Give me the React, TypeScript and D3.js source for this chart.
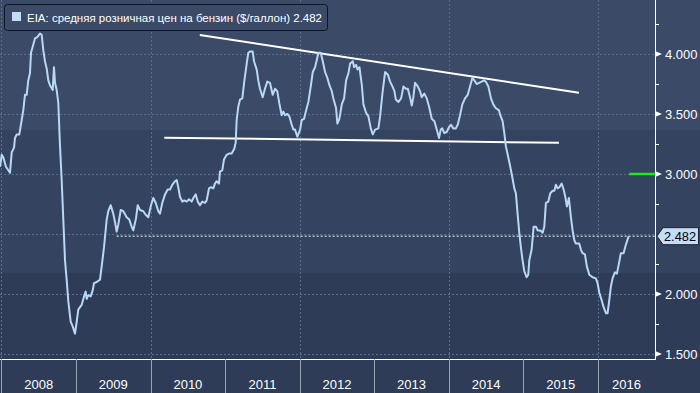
import * as d3 from 'd3';

// weekly-ish EIA retail gasoline price (decimal year, $/gal)
const priceTimes = [
  2007.980, 2008.003, 2008.024, 2008.060, 2008.114, 2008.137, 2008.168, 2008.181, 2008.204, 2008.239,
  2008.271, 2008.292, 2008.315, 2008.338, 2008.359, 2008.382, 2008.396, 2008.427, 2008.449, 2008.480,
  2008.516, 2008.539, 2008.561, 2008.583, 2008.606, 2008.628, 2008.650, 2008.687, 2008.704, 2008.718,
  2008.740, 2008.762, 2008.785, 2008.807, 2008.829, 2008.852, 2008.874, 2008.896, 2008.928, 2008.955,
  2008.986, 2009.009, 2009.030, 2009.053, 2009.076, 2009.107, 2009.129, 2009.143, 2009.164, 2009.196,
  2009.223, 2009.241, 2009.277, 2009.321, 2009.344, 2009.375, 2009.411, 2009.432, 2009.465, 2009.499,
  2009.522, 2009.545, 2009.567, 2009.599, 2009.634, 2009.679, 2009.714, 2009.746, 2009.768, 2009.804,
  2009.827, 2009.858, 2009.902, 2009.934, 2009.969, 2010.005, 2010.036, 2010.068, 2010.103, 2010.126,
  2010.157, 2010.193, 2010.229, 2010.260, 2010.291, 2010.327, 2010.350, 2010.371, 2010.394, 2010.425,
  2010.452, 2010.484, 2010.515, 2010.551, 2010.573, 2010.605, 2010.632, 2010.662, 2010.693, 2010.729,
  2010.752, 2010.783, 2010.810, 2010.841, 2010.863, 2010.886, 2010.917, 2010.930, 2010.961, 2010.984,
  2011.020, 2011.051, 2011.087, 2011.122, 2011.141, 2011.154, 2011.176, 2011.199, 2011.230, 2011.256,
  2011.289, 2011.310, 2011.333, 2011.369, 2011.387, 2011.423, 2011.444, 2011.467, 2011.503, 2011.534,
  2011.565, 2011.601, 2011.637, 2011.668, 2011.699, 2011.726, 2011.758, 2011.780, 2011.803, 2011.834,
  2011.861, 2011.893, 2011.915, 2011.937, 2011.968, 2012.005, 2012.027, 2012.058, 2012.094, 2012.116,
  2012.148, 2012.175, 2012.206, 2012.229, 2012.250, 2012.282, 2012.309, 2012.340, 2012.371, 2012.398,
  2012.430, 2012.451, 2012.487, 2012.505, 2012.532, 2012.564, 2012.595, 2012.622, 2012.653, 2012.676,
  2012.712, 2012.729, 2012.756, 2012.774, 2012.801, 2012.833, 2012.854, 2012.890, 2012.921, 2012.953,
  2012.980, 2013.011, 2013.055, 2013.078, 2013.109, 2013.145, 2013.181, 2013.212, 2013.243, 2013.270,
  2013.289, 2013.324, 2013.360, 2013.391, 2013.423, 2013.450, 2013.479, 2013.503, 2013.524, 2013.547,
  2013.583, 2013.614, 2013.636, 2013.671, 2013.704, 2013.735, 2013.771, 2013.806, 2013.838, 2013.868,
  2013.891, 2013.912, 2013.939, 2013.971, 2014.002, 2014.029, 2014.060, 2014.092, 2014.119, 2014.150,
  2014.181, 2014.217, 2014.253, 2014.284, 2014.315, 2014.342, 2014.374, 2014.405, 2014.441, 2014.468,
  2014.495, 2014.530, 2014.565, 2014.596, 2014.628, 2014.673, 2014.690, 2014.721, 2014.744, 2014.765,
  2014.797, 2014.824, 2014.855, 2014.878, 2014.899, 2014.922, 2014.945, 2014.966, 2014.989, 2015.012,
  2015.043, 2015.065, 2015.079, 2015.110, 2015.137, 2015.168, 2015.191, 2015.227, 2015.258, 2015.280,
  2015.302, 2015.334, 2015.361, 2015.392, 2015.415, 2015.436, 2015.459, 2015.482, 2015.513, 2015.540,
  2015.562, 2015.583, 2015.610, 2015.637, 2015.660, 2015.682, 2015.704, 2015.749, 2015.771, 2015.794,
  2015.825, 2015.851, 2015.884, 2015.928, 2015.972, 2015.995, 2016.018, 2016.049, 2016.076, 2016.107,
  2016.129, 2016.152, 2016.173, 2016.196, 2016.227, 2016.254, 2016.286, 2016.307, 2016.343, 2016.379,
  2016.413,
];
const priceValues = [
  3.06, 3.16, 3.14, 3.06, 3.01, 3.18, 3.22, 3.30, 3.33, 3.33,
  3.45, 3.53, 3.66, 3.66, 3.78, 3.84, 4.01, 4.08, 4.13, 4.14,
  4.17, 4.16, 4.03, 3.94, 3.88, 3.78, 3.74, 3.70, 3.89, 3.76,
  3.70, 3.59, 3.23, 2.95, 2.62, 2.28, 2.12, 1.94, 1.77, 1.73,
  1.67, 1.77, 1.87, 1.89, 1.91, 1.98, 2.02, 1.96, 1.99, 1.98,
  2.03, 2.09, 2.10, 2.12, 2.23, 2.39, 2.62, 2.69, 2.74, 2.67,
  2.60, 2.52, 2.58, 2.70, 2.69, 2.64, 2.62, 2.56, 2.53, 2.63,
  2.74, 2.70, 2.69, 2.66, 2.64, 2.74, 2.80, 2.76, 2.69, 2.67,
  2.76, 2.83, 2.87, 2.87, 2.91, 2.94, 2.95, 2.89, 2.81, 2.77,
  2.78, 2.77, 2.79, 2.77, 2.80, 2.83, 2.77, 2.74, 2.77, 2.76,
  2.78, 2.88, 2.89, 2.88, 2.92, 2.94, 2.92, 3.02, 3.03, 3.12,
  3.16, 3.17, 3.17, 3.21, 3.26, 3.45, 3.56, 3.62, 3.63, 3.77,
  3.92, 4.01, 4.02, 4.02, 3.94, 3.87, 3.78, 3.71, 3.64, 3.71,
  3.77, 3.76, 3.66, 3.71, 3.69, 3.59, 3.49, 3.52, 3.49, 3.50,
  3.48, 3.41, 3.37, 3.37, 3.31, 3.37, 3.45, 3.46, 3.55, 3.60,
  3.73, 3.85, 3.89, 3.95, 4.01, 4.01, 3.94, 3.85, 3.80, 3.74,
  3.69, 3.63, 3.55, 3.42, 3.46, 3.58, 3.63, 3.78, 3.84, 3.92,
  3.94, 3.89, 3.91, 3.87, 3.89, 3.74, 3.58, 3.51, 3.48, 3.38,
  3.33, 3.37, 3.38, 3.48, 3.67, 3.85, 3.83, 3.77, 3.73, 3.69,
  3.62, 3.60, 3.63, 3.73, 3.71, 3.71, 3.64, 3.57, 3.64, 3.76,
  3.73, 3.69, 3.64, 3.67, 3.63, 3.56, 3.46, 3.44, 3.37, 3.30,
  3.37, 3.38, 3.34, 3.35, 3.39, 3.41, 3.38, 3.38, 3.41, 3.49,
  3.58, 3.63, 3.66, 3.73, 3.80, 3.78, 3.75, 3.76, 3.77, 3.78,
  3.77, 3.73, 3.63, 3.58, 3.55, 3.53, 3.49, 3.44, 3.34, 3.23,
  3.14, 3.06, 2.96, 2.88, 2.84, 2.67, 2.51, 2.39, 2.28, 2.19,
  2.14, 2.16, 2.28, 2.37, 2.56, 2.56, 2.53, 2.53, 2.51, 2.56,
  2.76, 2.77, 2.84, 2.86, 2.86, 2.91, 2.88, 2.89, 2.92, 2.87,
  2.81, 2.73, 2.80, 2.64, 2.53, 2.45, 2.42, 2.42, 2.37, 2.34,
  2.33, 2.23, 2.16, 2.14, 2.13, 2.09, 2.01, 1.95, 1.89, 1.84,
  1.84, 1.95, 2.06, 2.13, 2.18, 2.17, 2.27, 2.34, 2.34, 2.42,
  2.482,
];

const yearLabels = [2008, 2009, 2010, 2011, 2012, 2013, 2014, 2015, 2016];
const gridYears = [2008, 2010, 2012, 2014, 2016];
const majorTicks = [1.5, 2.0, 3.0, 3.5, 4.0];
const gridValues = [1.5, 2.0, 2.5, 3.0, 3.5, 4.0];
const minorTicks = [1.75, 2.25, 2.75, 3.25, 3.75, 4.25];
const lastValue = 2.482;
const lastLineFrom = 2009.545;
const greenMark = { from: 2016.42, value: 3.0 };
const legendLabel = 'EIA: средняя розничная цен на бензин ($/галлон)';

// hand-drawn trend lines: [start year, start value, end year, end value]
const trendLines = [
  [2010.66, 4.158, 2015.745, 3.677],
  [2010.183, 3.303, 2015.477, 3.26],
];

const W = 700;
const H = 393;
const plotRight = 655;
const plotBottom = 359;

export default function App() {
  const x = d3.scaleLinear().domain([2007.98, 2016.765]).range([0, plotRight]);
  const y = d3.scaleLinear().domain([1.5, 4.45]).range([354, 0]);

  const pts = priceTimes.map((t, i) => [t, priceValues[i]] as [number, number]);
  const line = d3
    .line<[number, number]>()
    .x((d) => x(d[0]))
    .y((d) => y(d[1]));

  const fmt = d3.format('.3f');
  const gridColor = '#55708c';
  const font = '"Liberation Sans", Arial, sans-serif';
  const yLast = y(lastValue);

  return (
    <svg
      width={W}
      height={H}
      style={{ position: 'absolute', left: 0, top: 0, display: 'block' }}
    >
      {/* background bands */}
      <rect x={0} y={0} width={W} height={130} fill="#3b4a67" />
      <rect x={0} y={130} width={W} height={143} fill="#34435f" />
      <rect x={0} y={273} width={W} height={H - 273} fill="#2e3c58" />

      {/* grid */}
      {gridValues.map((v) => (
        <line
          key={'gy' + v}
          x1={0}
          x2={plotRight}
          y1={y(v) + 0.5}
          y2={y(v) + 0.5}
          stroke={gridColor}
          strokeDasharray="2,2"
        />
      ))}
      {gridYears.map((yr) => (
        <line
          key={'gx' + yr}
          x1={Math.round(x(yr)) + 0.5}
          x2={Math.round(x(yr)) + 0.5}
          y1={0}
          y2={plotBottom}
          stroke={gridColor}
          strokeDasharray="2,2"
        />
      ))}

      {/* trend lines */}
      {trendLines.map((t, i) => (
        <line
          key={'tr' + i}
          x1={x(t[0])}
          y1={y(t[1])}
          x2={x(t[2])}
          y2={y(t[3])}
          stroke="#ffffff"
          strokeWidth={2}
        />
      ))}

      {/* last value dotted line */}
      <line
        x1={x(lastLineFrom)}
        x2={plotRight}
        y1={yLast}
        y2={yLast}
        stroke="#ffffff"
        strokeDasharray="2,2"
      />

      {/* price line */}
      <path d={line(pts) ?? ''} fill="none" stroke="#b9d7f6" strokeWidth={2} strokeLinejoin="round" />

      {/* green marker */}
      <line
        x1={x(greenMark.from)}
        x2={plotRight}
        y1={y(greenMark.value)}
        y2={y(greenMark.value)}
        stroke="#1fe81f"
        strokeWidth={2.5}
      />

      {/* axes */}
      <line x1={plotRight + 0.5} x2={plotRight + 0.5} y1={0} y2={plotBottom} stroke="#ffffff" />
      <line x1={0} x2={plotRight + 1} y1={plotBottom + 0.5} y2={plotBottom + 0.5} stroke="#ffffff" />

      {minorTicks.map((v) => (
        <line
          key={'mt' + v}
          x1={plotRight}
          x2={plotRight + 4}
          y1={Math.round(y(v)) + 0.5}
          y2={Math.round(y(v)) + 0.5}
          stroke="#ffffff"
        />
      ))}
      {majorTicks.map((v) => (
        <g key={'t' + v}>
          <path
            d={`M${plotRight},${y(v) - 3}L${plotRight + 7},${y(v)}L${plotRight},${y(v) + 3}Z`}
            fill="#ffffff"
          />
          <text
            x={665}
            y={y(v) + 5}
            fill="#ffffff"
            fontSize={13}
            fontFamily={font}
          >
            {fmt(v)}
          </text>
        </g>
      ))}

      {/* current value tag */}
      <path
        d={`M${plotRight + 2},${yLast}L${plotRight + 8},${yLast - 8.5}H${W - 1.5}V${yLast + 8.5}H${plotRight + 8}Z`}
        fill="#c6ddf6"
        stroke="#1b2535"
      />
      <text
        x={664}
        y={yLast + 4.5}
        fill="#000000"
        fontSize={12.5}
        fontFamily={font}
        textLength={32}
        lengthAdjust="spacingAndGlyphs"
      >
        {fmt(lastValue)}
      </text>

      {/* year bands */}
      {yearLabels.map((yr) => {
        const x0 = Math.max(0, x(yr));
        const x1 = Math.min(plotRight, x(yr + 1));
        return (
          <g key={'yr' + yr}>
            <line
              x1={Math.round(x(yr)) + 0.5}
              x2={Math.round(x(yr)) + 0.5}
              y1={plotBottom}
              y2={H}
              stroke="#9aa4b6"
            />
            <text
              x={(x0 + x1) / 2}
              y={389}
              fill="#ffffff"
              fontSize={13}
              fontFamily={font}
              textAnchor="middle"
            >
              {yr}
            </text>
          </g>
        );
      })}

      {/* legend */}
      <rect x={4.5} y={4.5} width={323} height={26} rx={3} fill="#3b4a67" stroke="#10151f" />
      <rect x={12} y={12} width={9} height={9} fill="#c6ddf6" />
      <text
        x={27}
        y={22}
        fill="#ffffff"
        fontSize={11}
        fontFamily={font}
        textLength={295}
        lengthAdjust="spacingAndGlyphs"
      >
        {`${legendLabel} ${lastValue}`}
      </text>
    </svg>
  );
}
